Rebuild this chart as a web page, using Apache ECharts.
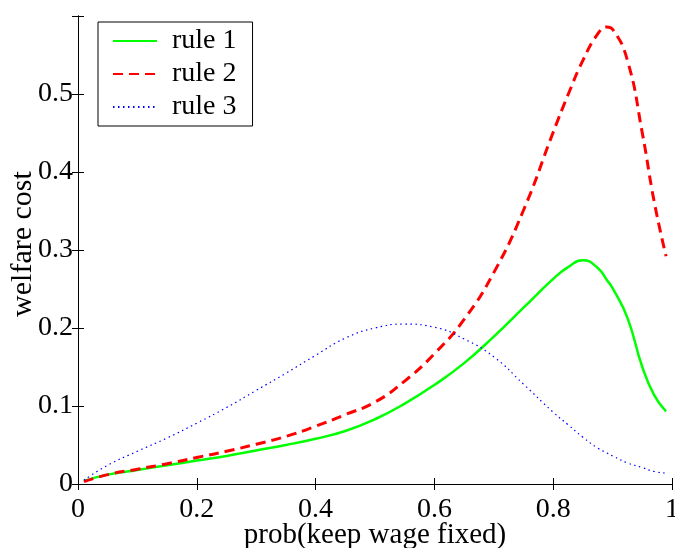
<!DOCTYPE html>
<html>
<head>
<meta charset="utf-8">
<script src="https://cdn.jsdelivr.net/npm/echarts@6/dist/echarts.min.js"></script>
<style>
  html, body { margin: 0; padding: 0; background: #fff; }
  #chart { width: 675px; height: 548px; }
</style>
</head>
<body>
<div id="chart"></div>
<script>
// probability of keeping the wage fixed
const probGrid = [0.01, 0.05, 0.1, 0.15, 0.2, 0.25, 0.3, 0.35, 0.4, 0.45, 0.5, 0.55, 0.6, 0.65, 0.7, 0.75, 0.8, 0.825, 0.85, 0.875, 0.89, 0.9, 0.925, 0.95, 0.97, 0.99];

// welfare cost under each rule
const rule1 = [0.004, 0.012, 0.018, 0.024, 0.030, 0.036, 0.043, 0.050, 0.058, 0.068, 0.083, 0.103, 0.127, 0.155, 0.189, 0.226, 0.263, 0.278, 0.287, 0.277, 0.262, 0.251, 0.213, 0.150, 0.114, 0.093];
const rule2 = [0.003, 0.012, 0.019, 0.026, 0.034, 0.042, 0.051, 0.061, 0.074, 0.089, 0.105, 0.132, 0.167, 0.211, 0.271, 0.351, 0.451, 0.499, 0.543, 0.577, 0.586, 0.583, 0.543, 0.450, 0.362, 0.292];
const rule3 = [0.005, 0.024, 0.042, 0.059, 0.078, 0.098, 0.120, 0.142, 0.165, 0.187, 0.200, 0.205, 0.201, 0.186, 0.163, 0.128, 0.092, 0.076, 0.060, 0.046, 0.040, 0.036, 0.027, 0.021, 0.016, 0.014];

const seriesNames = ['rule 1', 'rule 2', 'rule 3'];
const xTickLabels = ['0', '0.2', '0.4', '0.6', '0.8', '1'];
const yTickLabels = ['0', '0.1', '0.2', '0.3', '0.4', '0.5'];

const FONT = "'Liberation Serif', 'Times New Roman', serif";

function pairs(ys) {
  return probGrid.map((x, i) => [x, ys[i]]);
}

const chart = echarts.init(document.getElementById('chart'), null, { renderer: 'canvas' });

const baseAxis = {
  type: 'value',
  nameMoveOverlap: false,
  axisLine: { show: true, lineStyle: { color: '#000', width: 1 } },
  axisTick: { show: true, inside: true, length: 6, lineStyle: { color: '#000' } },
  splitLine: { show: false }
};

chart.setOption({
  animation: false,
  backgroundColor: '#fff',
  grid: { left: 78, right: 3, top: 16, bottom: 64, containLabel: false, outerBoundsMode: 'none' },
  legend: {
    left: 98,
    top: 22,
    orient: 'vertical',
    data: seriesNames,
    itemWidth: 44,
    itemHeight: 14,
    itemGap: 5,
    padding: [5, 16, 5, 14],
    borderColor: '#000',
    borderWidth: 1,
    backgroundColor: '#fff',
    // line sample only, no marker
    itemStyle: { opacity: 0, borderWidth: 0 },
    textStyle: { fontFamily: FONT, fontSize: 28, color: '#000', padding: [0, 0, 0, 10] }
  },
  xAxis: [
    Object.assign({}, baseAxis, {
      min: 0, max: 1, interval: 0.2,
      position: 'bottom',
      name: 'prob(keep wage fixed)',
      nameLocation: 'middle',
      nameGap: 37,
      nameTextStyle: { fontFamily: FONT, fontSize: 29, color: '#000' },
      axisLabel: {
        margin: 12,
        fontFamily: FONT, fontSize: 28, color: '#000',
        formatter: v => xTickLabels[Math.round(v / 0.2)]
      }
    }),
    Object.assign({}, baseAxis, {
      min: 0, max: 1, interval: 0.2,
      position: 'top',
      axisLabel: { show: false }
    })
  ],
  yAxis: [
    Object.assign({}, baseAxis, {
      min: 0, max: 0.6, interval: 0.1,
      position: 'left',
      name: 'welfare cost',
      nameLocation: 'middle',
      nameGap: 40,
      nameTextStyle: { fontFamily: FONT, fontSize: 30, color: '#000', padding: [0, 0, 0, 12] },
      axisLabel: {
        margin: 5,
        fontFamily: FONT, fontSize: 28, color: '#000',
        formatter: v => {
          const k = Math.round(v / 0.1);
          return k < yTickLabels.length ? yTickLabels[k] : '';
        }
      }
    }),
    Object.assign({}, baseAxis, {
      min: 0, max: 0.6, interval: 0.1,
      position: 'right',
      axisLabel: { show: false }
    })
  ],
  series: [
    {
      name: seriesNames[0], type: 'line', data: pairs(rule1),
      smooth: 0.5, symbol: 'none',
      lineStyle: { color: '#00ff00', width: 2.5, type: 'solid' },
      itemStyle: { color: '#00ff00' }
    },
    {
      name: seriesNames[1], type: 'line', data: pairs(rule2),
      smooth: 0.5, symbol: 'none',
      lineStyle: { color: '#ff0000', width: 3, type: [10, 6] },
      itemStyle: { color: '#ff0000' }
    },
    {
      name: seriesNames[2], type: 'line', data: pairs(rule3),
      smooth: 0.5, symbol: 'none',
      lineStyle: { color: '#0000ff', width: 1.2, type: [1.5, 3.5] },
      itemStyle: { color: '#0000ff' }
    }
  ]
});
</script>
</body>
</html>
